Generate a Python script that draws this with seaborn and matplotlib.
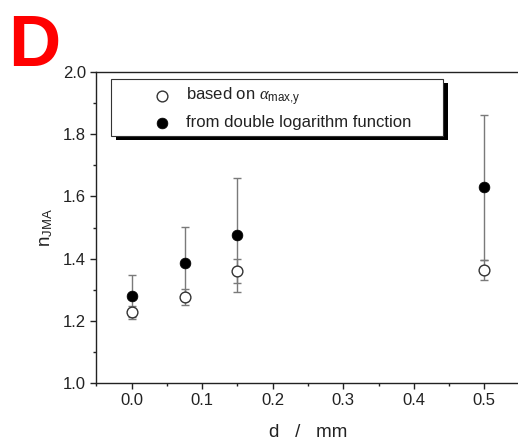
import matplotlib
matplotlib.use("Agg")
import matplotlib.pyplot as plt
from matplotlib.ticker import MultipleLocator, FormatStrFormatter
from matplotlib.patches import Rectangle
import seaborn as sns
import pandas as pd

# sample thickness d (mm) and Avrami exponent estimates
d_mm = [0.0, 0.075, 0.15, 0.5]
n_alpha = [1.227, 1.277, 1.361, 1.364]
n_alpha_err = [0.022, 0.026, 0.039, 0.033]
n_dlog = [1.280, 1.386, 1.475, 1.629]
n_dlog_err = [0.068, 0.116, 0.183, 0.233]

label_alpha = r"based on $\alpha_{\rm max{,}y}$"
label_dlog = "from double logarithm function"

sns.set_theme(style="ticks")
plt.rcParams["font.family"] = ["Liberation Sans", "DejaVu Sans"]
plt.rcParams["mathtext.fontset"] = "custom"
plt.rcParams["mathtext.rm"] = "Liberation Sans"
plt.rcParams["mathtext.it"] = "Liberation Serif:italic"

ink = "#222222"
W, H = 518, 447
df_alpha = pd.DataFrame({"d": d_mm, "n": n_alpha, "err": n_alpha_err})
df_dlog = pd.DataFrame({"d": d_mm, "n": n_dlog, "err": n_dlog_err})

fig = plt.figure(figsize=(W / 100, H / 100), dpi=100)
ax_l, ax_b, ax_w, ax_h = 96.4, 64, 423.2, 311
ax = fig.add_axes([ax_l / W, ax_b / H, ax_w / W, ax_h / H])


def px_to_axes(x, y):
    """pixel position (from top-left of the figure) -> axes fraction"""
    return (x - ax_l) / ax_w, ((H - y) - ax_b) / ax_h


# error bars first, markers on top
for df in (df_dlog, df_alpha):
    ax.errorbar(df["d"], df["n"], yerr=df["err"], fmt="none",
                ecolor="#7a7a7a", elinewidth=1.0, capsize=3, capthick=1.0,
                zorder=2)

sns.scatterplot(data=df_alpha, x="d", y="n", ax=ax, marker="o", s=60,
                facecolor="white", edgecolor="#333333", linewidth=1.0,
                label=label_alpha, zorder=3)
sns.scatterplot(data=df_dlog, x="d", y="n", ax=ax, marker="o", s=60,
                color="black", edgecolor="black", linewidth=0.5,
                label=label_dlog, zorder=3)

ax.set_xlim(-0.05, 0.55)
ax.set_ylim(1.0, 2.0)
ax.xaxis.set_major_locator(MultipleLocator(0.1))
ax.xaxis.set_minor_locator(MultipleLocator(0.05))
ax.yaxis.set_major_locator(MultipleLocator(0.2))
ax.yaxis.set_minor_locator(MultipleLocator(0.1))
ax.xaxis.set_major_formatter(FormatStrFormatter("%.1f"))
ax.yaxis.set_major_formatter(FormatStrFormatter("%.1f"))

ax.tick_params(which="major", direction="out", length=4, width=1.0,
               color=ink, labelsize=12, labelcolor=ink, pad=3.5)
ax.tick_params(which="minor", direction="out", length=2.5, width=1.0,
               color=ink)
for side in ("left", "bottom", "top", "right"):
    ax.spines[side].set_visible(True)
    ax.spines[side].set_color(ink)
    ax.spines[side].set_linewidth(1.0)

ax.set_xlabel("d   /   mm", fontsize=13.5, color=ink, labelpad=11)
ax.set_ylabel(r"n$_{\rm JMA}$", fontsize=13.5, color=ink, labelpad=6)

# legend box with a solid drop shadow
x0, y0 = px_to_axes(111, 136)
x1, y1 = px_to_axes(443, 79)
sx, sy = px_to_axes(116, 140)
ax.add_patch(Rectangle((sx, sy), x1 - x0, y1 - y0, transform=ax.transAxes,
                       facecolor="black", edgecolor="none", zorder=5,
                       clip_on=False))
ax.add_patch(Rectangle((x0, y0), x1 - x0, y1 - y0, transform=ax.transAxes,
                       facecolor="white", edgecolor="#333333", linewidth=0.8,
                       zorder=6, clip_on=False))

lx, ly = px_to_axes(153.7, 108.0)
leg = ax.legend(loc="center left", bbox_to_anchor=(lx, ly),
                borderaxespad=0, borderpad=0, fontsize=12, frameon=False,
                handlelength=1.0, handletextpad=0.94, labelspacing=0.42)
leg.set_zorder(7)
for t in leg.get_texts():
    t.set_color(ink)

fig.text(0.0155, 1 - 65.5 / H, "D", color="#ff0000", fontsize=52,
         fontweight="bold", family="Liberation Sans", va="baseline",
         ha="left")

fig.savefig("out.png", dpi=100)
